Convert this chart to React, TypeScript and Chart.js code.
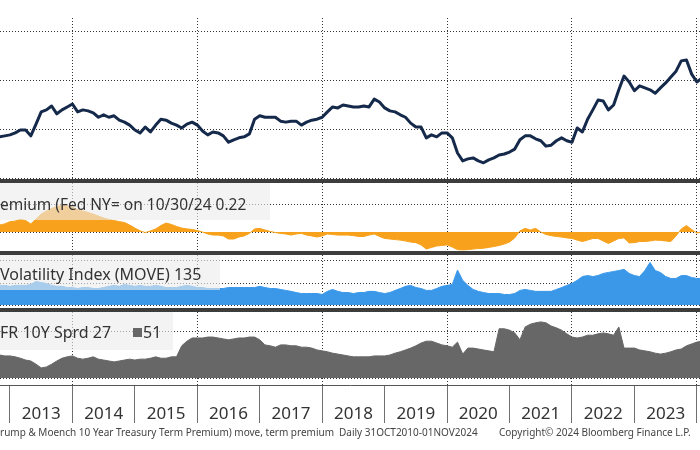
import React, { useEffect, useRef } from "react";
import { Chart, registerables } from "chart.js";

Chart.register(...registerables);

// ---------- categories: monthly observations, Nov 2012 .. Feb 2024 ----------
const FIRST_YEAR = 2012;
const FIRST_MONTH = 11;
const MONTH_COUNT = 136;
const months: number[] = Array.from(
  { length: MONTH_COUNT },
  (_, i) => FIRST_YEAR + (FIRST_MONTH - 1 + i) / 12
);

// ---------- series values ----------
const yieldLevel = [
  1.84, 1.86, 1.88, 1.92, 1.98, 1.98, 1.86, 2.10, 2.35, 2.39,
  2.47, 2.31, 2.39, 2.45, 2.51, 2.35, 2.39, 2.37, 2.33, 2.24,
  2.29, 2.24, 2.27, 2.18, 2.14, 2.08, 1.98, 1.92, 2.04, 1.94,
  2.08, 2.20, 2.18, 2.12, 2.08, 2.02, 2.10, 2.14, 2.08, 1.96,
  1.88, 1.94, 1.92, 1.86, 1.73, 1.78, 1.82, 1.84, 1.90, 2.20,
  2.27, 2.24, 2.24, 2.24, 2.16, 2.14, 2.16, 2.16, 2.08, 2.14,
  2.18, 2.20, 2.24, 2.35, 2.45, 2.43, 2.49, 2.47, 2.45, 2.45,
  2.47, 2.45, 2.61, 2.55, 2.43, 2.37, 2.35, 2.29, 2.24, 2.12,
  2.04, 2.04, 1.82, 1.88, 1.84, 1.92, 1.92, 1.82, 1.51, 1.35,
  1.39, 1.41, 1.35, 1.31, 1.37, 1.41, 1.47, 1.49, 1.53, 1.59,
  1.78, 1.86, 1.86, 1.80, 1.76, 1.65, 1.67, 1.76, 1.82, 1.76,
  1.73, 2.02, 1.94, 2.20, 2.39, 2.59, 2.57, 2.39, 2.49, 2.80,
  3.08, 2.96, 2.78, 2.88, 2.84, 2.80, 2.73, 2.84, 2.94, 3.06,
  3.18, 3.39, 3.41, 3.12, 2.96, 3.04,
];

const termPremium = [
  0.25, 0.29, 0.37, 0.39, 0.46, 0.41, 0.29, 0.46, 0.64, 0.75,
  0.84, 0.91, 0.96, 0.93, 0.88, 0.80, 0.75, 0.70, 0.64, 0.57,
  0.50, 0.45, 0.41, 0.37, 0.34, 0.25, 0.14, 0.04, -0.02, 0.04,
  0.11, 0.23, 0.32, 0.27, 0.20, 0.14, 0.11, 0.09, 0.05, 0.00,
  -0.07, -0.11, -0.11, -0.14, -0.25, -0.25, -0.18, -0.14, -0.05, 0.11,
  0.13, 0.07, 0.02, -0.02, -0.05, -0.07, -0.11, -0.07, -0.05, -0.11,
  -0.14, -0.18, -0.14, -0.07, -0.09, -0.11, -0.11, -0.11, -0.13, -0.16,
  -0.16, -0.11, -0.07, -0.16, -0.23, -0.25, -0.27, -0.29, -0.32, -0.36,
  -0.38, -0.46, -0.61, -0.55, -0.50, -0.48, -0.46, -0.54, -0.63, -0.64,
  -0.63, -0.61, -0.59, -0.58, -0.55, -0.52, -0.48, -0.43, -0.36, -0.21,
  0.04, 0.13, 0.07, 0.13, 0.00, -0.09, -0.13, -0.16, -0.18, -0.21,
  -0.23, -0.29, -0.34, -0.29, -0.23, -0.23, -0.32, -0.41, -0.32, -0.23,
  -0.21, -0.39, -0.38, -0.34, -0.34, -0.32, -0.29, -0.30, -0.32, -0.34,
  -0.14, 0.11, 0.23, 0.09, -0.04, 0.01,
];

const moveIndex = [
  94, 94, 90, 94, 94, 94, 98, 110, 106, 102,
  94, 90, 90, 85, 85, 81, 85, 85, 81, 81,
  85, 90, 94, 90, 98, 94, 90, 94, 90, 90,
  94, 90, 85, 85, 85, 90, 94, 90, 85, 85,
  81, 81, 81, 81, 85, 85, 85, 85, 85, 85,
  90, 85, 81, 81, 77, 73, 69, 64, 60, 60,
  60, 60, 56, 69, 77, 69, 64, 64, 60, 64,
  64, 69, 69, 64, 60, 64, 73, 81, 90, 94,
  85, 81, 73, 73, 81, 90, 94, 98, 158, 115,
  94, 77, 69, 64, 60, 60, 60, 56, 56, 60,
  73, 77, 73, 69, 69, 69, 69, 77, 85, 94,
  102, 115, 131, 135, 131, 135, 144, 148, 152, 156,
  161, 144, 135, 131, 156, 190, 156, 148, 131, 123,
  123, 135, 135, 127, 123, 123,
];

const spread10y = [
  50, 48, 48, 46, 43, 39, 37, 30, 22, 24,
  30, 37, 43, 46, 48, 43, 41, 43, 46, 41,
  39, 37, 35, 37, 39, 41, 39, 41, 41, 43,
  46, 43, 43, 46, 46, 70, 80, 87, 87, 87,
  89, 89, 87, 85, 83, 85, 87, 87, 89, 89,
  83, 72, 70, 67, 72, 72, 70, 70, 67, 67,
  65, 61, 59, 57, 54, 52, 50, 48, 46, 46,
  46, 46, 48, 48, 48, 50, 54, 57, 61, 65,
  70, 76, 80, 80, 76, 72, 70, 67, 78, 52,
  65, 65, 63, 61, 59, 57, 107, 107, 104, 98,
  83, 111, 117, 120, 122, 120, 113, 109, 104, 96,
  89, 87, 89, 93, 93, 96, 98, 96, 93, 111,
  65, 65, 65, 61, 59, 57, 54, 52, 54, 57,
  61, 63, 70, 74, 78, 80,
];

// ---------- axis labels / ticks ----------
const yearLabels = ["2012", "2013", "2014", "2015", "2016", "2017", "2018", "2019", "2020", "2021", "2022", "2023"];
const gridYears = [2014, 2016, 2018, 2020, 2022, 2024];
const yieldTicks = [1, 2, 3, 4];
const termTicks = [0, 1];
const moveTicks = [12, 100, 200];
const spreadTicks = [0, 100];

const panelLabels = {
  term: "emium (Fed NY= on 10/30/24 0.22",
  move: "Volatility Index (MOVE) 135",
  spread: "FR 10Y Sprd 27",
  spreadLast: "51",
};
const footerParts = [
  "rump & Moench 10 Year Treasury Term Premium) move, term premium",
  "Daily 31OCT2010-01NOV2024",
  "Copyright\u00A9 2024 Bloomberg Finance L.P.",
];

// ---------- styling ----------
const X_MIN = 2012.84;
const X_MAX = 2024.05;
const FONT = "'Noto Sans', 'DejaVu Sans', sans-serif";
const NAVY = "#15294a";
const ORANGE = "#f7a11c";
const BLUE = "#3b98e9";
const GRAY = "#676767";
const GRID = "#333333";
const BORDER = "#3d3d3d";
const DOT = [1, 2];
const BOX_BG = "rgba(236,236,236,0.62)";

const pts = (vals: number[]) => months.map((x, i) => ({ x, y: vals[i] }));

function xGridScale(z: number, below = 0) {
  return {
    type: "linear",
    axis: "x",
    position: "bottom",
    min: X_MIN,
    max: X_MAX,
    weight: 0,
    z,
    grid: {
      color: GRID,
      lineWidth: 1,
      drawTicks: below > 0,
      tickLength: below,
      tickColor: GRID,
      tickBorderDash: DOT,
    },
    border: { display: false, dash: DOT },
    ticks: { display: false },
    afterBuildTicks: (s: any) => {
      s.ticks = gridYears.map((v) => ({ value: v }));
    },
    afterFit: (s: any) => {
      s.height = below;
      s.paddingLeft = 0;
      s.paddingRight = 0;
    },
  };
}

function yGridScale(min: number, max: number, ticks: number[], z: number) {
  return {
    type: "linear",
    axis: "y",
    position: "left",
    min,
    max,
    z,
    grid: { color: GRID, lineWidth: 1, drawTicks: false },
    border: { display: false, dash: DOT },
    ticks: { display: false },
    afterBuildTicks: (s: any) => {
      s.ticks = ticks.map((v) => ({ value: v }));
    },
    afterFit: (s: any) => {
      s.width = 0;
      s.paddingTop = 0;
      s.paddingBottom = 0;
    },
  };
}

function baseOptions(scales: any, padding: any) {
  return {
    responsive: true,
    maintainAspectRatio: false,
    animation: false,
    events: [],
    layout: { autoPadding: false, padding },
    plugins: {
      legend: { display: false },
      tooltip: { enabled: false },
      title: { display: false },
    },
    scales,
  };
}

const makeYield = () => ({
  type: "line",
  data: {
    datasets: [
      {
        data: pts(yieldLevel),
        borderColor: NAVY,
        borderWidth: 3,
        pointRadius: 0,
        fill: false,
        tension: 0,
        borderJoinStyle: "round",
      },
    ],
  },
  options: baseOptions(
    { x: xGridScale(0), y: yGridScale(1, 1 + 160 / 49, yieldTicks, 0) },
    { top: 18, bottom: 1, left: 0, right: 0 }
  ),
});

const makeTerm = () => ({
  type: "line",
  data: {
    datasets: [
      {
        data: pts(termPremium),
        borderColor: ORANGE,
        backgroundColor: ORANGE,
        borderWidth: 1,
        pointRadius: 0,
        fill: "origin",
        tension: 0,
      },
    ],
  },
  options: baseOptions(
    { x: xGridScale(1), y: yGridScale(-19 / 28, 49 / 28, termTicks, 1) },
    { top: 0, bottom: 0, left: 0, right: 0 }
  ),
});

const makeMove = () => ({
  type: "line",
  data: {
    datasets: [
      {
        data: pts(moveIndex),
        borderColor: BLUE,
        backgroundColor: BLUE,
        borderWidth: 1,
        pointRadius: 0,
        fill: "start",
        tension: 0,
      },
    ],
  },
  options: baseOptions(
    { x: xGridScale(1), y: yGridScale(12, 221, moveTicks, 1) },
    { top: 0, bottom: 3, left: 0, right: 0 }
  ),
});

const makeSpread = () => ({
  type: "line",
  data: {
    datasets: [
      {
        data: pts(spread10y),
        borderColor: GRAY,
        backgroundColor: GRAY,
        borderWidth: 1,
        pointRadius: 0,
        fill: "origin",
        tension: 0,
      },
    ],
  },
  options: baseOptions(
    {
      x: xGridScale(1, 7),
      xYears: {
        type: "linear",
        axis: "x",
        position: "bottom",
        min: X_MIN,
        max: X_MAX,
        weight: 1,
        grid: {
          offset: true,
          drawOnChartArea: false,
          drawTicks: true,
          tickLength: 38,
          color: "#707070",
          lineWidth: 1,
        },
        border: { display: true, color: "#555555", width: 1 },
        ticks: {
          autoSkip: false,
          maxRotation: 0,
          minRotation: 0,
          padding: -17.5,
          color: "#333333",
          font: { family: FONT, size: 17, lineHeight: 1 },
          callback: (_v: any, i: number) => yearLabels[i],
        },
        afterBuildTicks: (s: any) => {
          s.ticks = yearLabels.map((y) => ({ value: Number(y) + 0.5 }));
        },
        afterFit: (s: any) => {
          s.height = 65;
          s.paddingLeft = 0;
          s.paddingRight = 0;
        },
      },
      y: yGridScale(0, 66 / 0.46, spreadTicks, 1),
    },
    { top: 0, bottom: 0, left: 0, right: 0 }
  ),
});

function ChartPanel({ top, height, make }: { top: number; height: number; make: () => any }) {
  const ref = useRef<HTMLCanvasElement | null>(null);
  useEffect(() => {
    if (!ref.current) return;
    const chart = new Chart(ref.current, make());
    return () => chart.destroy();
  }, [make]);
  return (
    <div style={{ position: "absolute", left: 0, top, width: 700, height }}>
      <canvas ref={ref} />
    </div>
  );
}

const abs = (s: any) => ({ position: "absolute", ...s });

export default function App() {
  const labelText = {
    fontFamily: FONT,
    fontSize: 16,
    lineHeight: "20px",
    color: "#333333",
    whiteSpace: "nowrap",
  };
  return (
    <div
      style={{
        position: "absolute",
        left: 0,
        top: 0,
        width: 700,
        height: 450,
        background: "#ffffff",
        overflow: "hidden",
        fontFamily: FONT,
      }}
    >
      <ChartPanel top={0} height={179} make={makeYield} />
      <ChartPanel top={183} height={68} make={makeTerm} />
      <ChartPanel top={255} height={53} make={makeMove} />
      <ChartPanel top={312} height={138} make={makeSpread} />

      {/* panel separators */}
      <div style={abs({ left: 0, top: 179, width: 700, height: 4, background: BORDER })} />
      <div style={abs({ left: 0, top: 251, width: 700, height: 4, background: BORDER })} />
      <div style={abs({ left: 0, top: 308, width: 700, height: 4, background: BORDER })} />

      {/* panel legends */}
      <div style={abs({ left: 0, top: 183, width: 270, height: 37, background: BOX_BG })}>
        <div style={abs({ left: 0, top: 10.5, ...labelText, fontSize: 15.5 })}>{panelLabels.term}</div>
      </div>
      <div style={abs({ left: 0, top: 255, width: 220, height: 35, background: BOX_BG })}>
        <div style={abs({ left: 0, top: 8.5, ...labelText })}>{panelLabels.move}</div>
      </div>
      <div style={abs({ left: 0, top: 312, width: 173, height: 38, background: BOX_BG })}>
        <div style={abs({ left: 0, top: 10, ...labelText })}>{panelLabels.spread}</div>
        <div style={abs({ left: 133, top: 16, width: 9, height: 9, background: GRAY })} />
        <div style={abs({ left: 143, top: 10, ...labelText })}>{panelLabels.spreadLast}</div>
      </div>

      {/* footer */}
      {footerParts.map((t, i) => (
        <div
          key={i}
          style={abs({
            left: [0, 339, 499][i],
            top: 425,
            fontFamily: FONT,
            fontSize: 10,
            lineHeight: "14px",
            color: "#444444",
            whiteSpace: "nowrap",
          })}
        >
          {t}
        </div>
      ))}
    </div>
  );
}
